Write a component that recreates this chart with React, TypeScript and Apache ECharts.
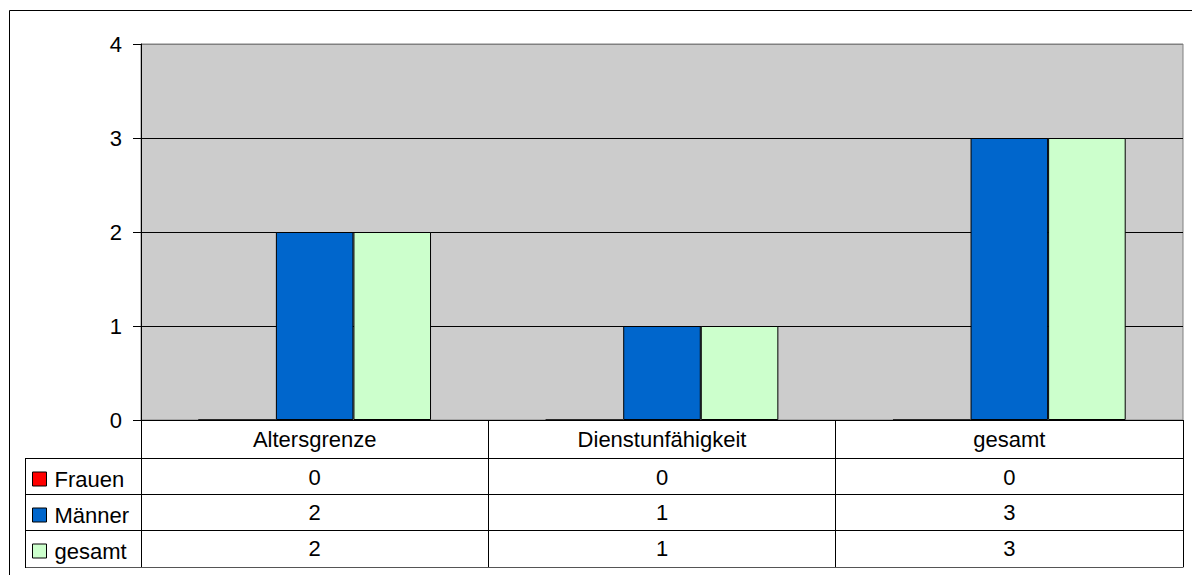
import React, { useEffect, useRef } from "react";
import * as echarts from "echarts";

const categories = ["Altersgrenze", "Dienstunfähigkeit", "gesamt"];
const seriesNames = ["Frauen", "Männer", "gesamt"];
const frauen = [0, 0, 0];
const maenner = [2, 1, 3];
const gesamt = [2, 1, 3];
const seriesData = [frauen, maenner, gesamt];
const seriesColors = ["#FF0000", "#0066CC", "#CCFFCC"];
const yMin = 0;
const yMax = 4;
const yInterval = 1;

const FONT = "'Liberation Sans', Arial, sans-serif";

export default function App() {
  const ref = useRef<HTMLDivElement>(null);
  useEffect(() => {
    if (!ref.current) return;
    const chart = echarts.init(ref.current, undefined, { renderer: "svg" });
    const gridLeft = 141;
    const gridTop = 44;
    const gridRight = 1192 - 1183;
    const gridBottom = 575 - 420;
    const tableLeft = 25;
    const tableRight = 1183;
    const rowLines = [458, 494, 530, 567];
    const rowCenters = [477, 512, 548];

    chart.setOption({
      animation: false,
      backgroundColor: "#FFFFFF",
      textStyle: { fontFamily: FONT },
      grid: {
        left: gridLeft,
        top: gridTop,
        right: gridRight,
        bottom: gridBottom,
        show: true,
        backgroundColor: "#CCCCCC",
        borderColor: "#808080",
        borderWidth: 1,
      },
      legend: {
        orient: "vertical",
        left: 27,
        top: 463,
        itemWidth: 14,
        itemHeight: 14,
        itemGap: 14,
        icon: "rect",
        selectedMode: false,
        textStyle: {
          fontFamily: FONT,
          fontSize: 22,
          lineHeight: 22,
          color: "#000000",
          padding: [0, 0, 0, 3],
        },
        data: seriesNames.map((n, i) => ({
          name: n,
          itemStyle: { color: seriesColors[i], borderColor: "#000000", borderWidth: 1 },
        })),
      },
      xAxis: {
        type: "category",
        data: categories,
        axisLine: { show: true, lineStyle: { color: "#000000", width: 1 } },
        axisTick: { show: true, length: 147, lineStyle: { color: "#000000", width: 1 } },
        axisLabel: {
          fontFamily: FONT,
          fontSize: 22,
          lineHeight: 22,
          color: "#000000",
          margin: 8,
        },
        splitLine: { show: false },
      },
      yAxis: {
        type: "value",
        min: yMin,
        max: yMax,
        interval: yInterval,
        axisLine: { show: true, lineStyle: { color: "#000000", width: 1 } },
        axisTick: { show: true, length: 8, lineStyle: { color: "#000000", width: 1 } },
        axisLabel: {
          fontFamily: FONT,
          fontSize: 22,
          color: "#000000",
          margin: 19,
        },
        splitLine: {
          show: true,
          lineStyle: {
            color: ["#000000", "#000000", "#000000", "#000000", "#808080"],
            width: 1,
          },
        },
      },
      series: seriesNames.map((n, i) => ({
        name: n,
        type: "bar",
        data: seriesData[i],
        barGap: "0%",
        barCategoryGap: "33%",
        itemStyle: {
          color: seriesColors[i],
          borderColor: "#000000",
          borderWidth: 1,
        },
      })),
    });

    const graphics: any[] = [];
    graphics.push({
      type: "rect",
      shape: { x: 9.5, y: 10.5, width: 1200, height: 700 },
      style: { fill: "none", stroke: "#000000", lineWidth: 1 },
      silent: true,
    });
    rowLines.forEach((y, i) => {
      graphics.push({
        type: "line",
        shape: { x1: tableLeft, y1: y + 0.5, x2: tableRight + 0.5, y2: y + 0.5 },
        style: { stroke: i === rowLines.length - 1 ? "#555555" : "#000000", lineWidth: 1 },
        silent: true,
      });
    });
    graphics.push({
      type: "line",
      shape: { x1: tableLeft + 0.5, y1: rowLines[0], x2: tableLeft + 0.5, y2: rowLines[rowLines.length - 1] + 1 },
      style: { stroke: "#000000", lineWidth: 1 },
      silent: true,
    });
    categories.forEach((c, ci) => {
      const x = chart.convertToPixel({ xAxisIndex: 0 }, c) as number;
      seriesData.forEach((arr, si) => {
        graphics.push({
          type: "text",
          x,
          y: rowCenters[si],
          style: {
            text: String(arr[ci]),
            fontFamily: FONT,
            fontSize: 22,
            fill: "#000000",
            align: "center",
            verticalAlign: "middle",
          },
          silent: true,
        });
      });
    });
    chart.setOption({ graphic: graphics });

    return () => chart.dispose();
  }, []);
  return (
    <div
      ref={ref}
      style={{ position: "absolute", left: 0, top: 0, width: 1192, height: 575 }}
    />
  );
}
